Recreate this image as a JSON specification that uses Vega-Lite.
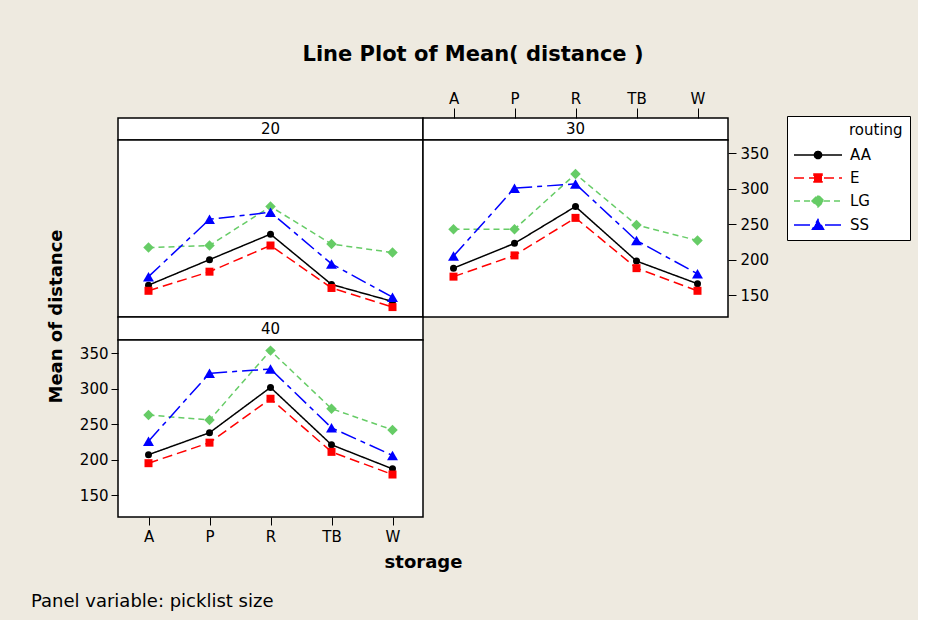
{
  "$schema": "https://vega.github.io/schema/vega-lite/v6.json",
  "background": "#EEEAE0",
  "padding": {"left": 30, "top": 44, "right": 7, "bottom": 8},
  "title": {"text": "Line Plot of Mean( distance )", "anchor": "start", "frame": "group", "align": "center", "dx": 355, "baseline": "alphabetic", "offset": 8, "fontSize": 21, "fontWeight": "bold", "font": "DejaVu Sans", "color": "black"},
  "datasets": {
    "means": [
      {"panel": "20", "routing": "AA", "storage": "A", "mean": 164},
      {"panel": "20", "routing": "AA", "storage": "P", "mean": 200},
      {"panel": "20", "routing": "AA", "storage": "R", "mean": 236},
      {"panel": "20", "routing": "AA", "storage": "TB", "mean": 165},
      {"panel": "20", "routing": "AA", "storage": "W", "mean": 141},
      {"panel": "20", "routing": "E", "storage": "A", "mean": 156},
      {"panel": "20", "routing": "E", "storage": "P", "mean": 183},
      {"panel": "20", "routing": "E", "storage": "R", "mean": 220},
      {"panel": "20", "routing": "E", "storage": "TB", "mean": 160},
      {"panel": "20", "routing": "E", "storage": "W", "mean": 133},
      {"panel": "20", "routing": "LG", "storage": "A", "mean": 217},
      {"panel": "20", "routing": "LG", "storage": "P", "mean": 220},
      {"panel": "20", "routing": "LG", "storage": "R", "mean": 275},
      {"panel": "20", "routing": "LG", "storage": "TB", "mean": 222},
      {"panel": "20", "routing": "LG", "storage": "W", "mean": 210},
      {"panel": "20", "routing": "SS", "storage": "A", "mean": 176},
      {"panel": "20", "routing": "SS", "storage": "P", "mean": 257},
      {"panel": "20", "routing": "SS", "storage": "R", "mean": 267},
      {"panel": "20", "routing": "SS", "storage": "TB", "mean": 194},
      {"panel": "20", "routing": "SS", "storage": "W", "mean": 147},
      {"panel": "30", "routing": "AA", "storage": "A", "mean": 188},
      {"panel": "30", "routing": "AA", "storage": "P", "mean": 223},
      {"panel": "30", "routing": "AA", "storage": "R", "mean": 275},
      {"panel": "30", "routing": "AA", "storage": "TB", "mean": 198},
      {"panel": "30", "routing": "AA", "storage": "W", "mean": 166},
      {"panel": "30", "routing": "E", "storage": "A", "mean": 176},
      {"panel": "30", "routing": "E", "storage": "P", "mean": 206},
      {"panel": "30", "routing": "E", "storage": "R", "mean": 259},
      {"panel": "30", "routing": "E", "storage": "TB", "mean": 188},
      {"panel": "30", "routing": "E", "storage": "W", "mean": 156},
      {"panel": "30", "routing": "LG", "storage": "A", "mean": 243},
      {"panel": "30", "routing": "LG", "storage": "P", "mean": 243},
      {"panel": "30", "routing": "LG", "storage": "R", "mean": 321},
      {"panel": "30", "routing": "LG", "storage": "TB", "mean": 249},
      {"panel": "30", "routing": "LG", "storage": "W", "mean": 227},
      {"panel": "30", "routing": "SS", "storage": "A", "mean": 205},
      {"panel": "30", "routing": "SS", "storage": "P", "mean": 301},
      {"panel": "30", "routing": "SS", "storage": "R", "mean": 307},
      {"panel": "30", "routing": "SS", "storage": "TB", "mean": 227},
      {"panel": "30", "routing": "SS", "storage": "W", "mean": 180},
      {"panel": "40", "routing": "AA", "storage": "A", "mean": 207},
      {"panel": "40", "routing": "AA", "storage": "P", "mean": 238},
      {"panel": "40", "routing": "AA", "storage": "R", "mean": 302},
      {"panel": "40", "routing": "AA", "storage": "TB", "mean": 221},
      {"panel": "40", "routing": "AA", "storage": "W", "mean": 187},
      {"panel": "40", "routing": "E", "storage": "A", "mean": 195},
      {"panel": "40", "routing": "E", "storage": "P", "mean": 224},
      {"panel": "40", "routing": "E", "storage": "R", "mean": 286},
      {"panel": "40", "routing": "E", "storage": "TB", "mean": 211},
      {"panel": "40", "routing": "E", "storage": "W", "mean": 179},
      {"panel": "40", "routing": "LG", "storage": "A", "mean": 263},
      {"panel": "40", "routing": "LG", "storage": "P", "mean": 256},
      {"panel": "40", "routing": "LG", "storage": "R", "mean": 354},
      {"panel": "40", "routing": "LG", "storage": "TB", "mean": 272},
      {"panel": "40", "routing": "LG", "storage": "W", "mean": 242},
      {"panel": "40", "routing": "SS", "storage": "A", "mean": 226},
      {"panel": "40", "routing": "SS", "storage": "P", "mean": 322},
      {"panel": "40", "routing": "SS", "storage": "R", "mean": 328},
      {"panel": "40", "routing": "SS", "storage": "TB", "mean": 245},
      {"panel": "40", "routing": "SS", "storage": "W", "mean": 206}
    ]
  },
  "columns": 2,
  "spacing": 0,
  "bounds": "flush",
  "align": "each",
  "concat": [
    {"width": 305, "height": 22, "view": {"fill": "white", "stroke": "black", "strokeWidth": 1.5}, "data": {"values": [{"label": "20"}]}, "mark": {"type": "text", "fontSize": 15, "color": "black"}, "encoding": {"text": {"field": "label", "type": "nominal"}}},
    {"width": 305, "height": 22, "view": {"fill": "white", "stroke": "black", "strokeWidth": 1.5}, "data": {"values": [{"label": "30"}]}, "mark": {"type": "text", "fontSize": 15, "color": "black"}, "encoding": {"text": {"field": "label", "type": "nominal"}}},
    {
      "width": 305, "height": 177,
      "data": {"name": "means"},
      "transform": [{"filter": "datum.panel == '20'"}],
      "encoding": {
        "x": {"field": "storage", "type": "nominal", "scale": {"type": "point", "padding": 0.5, "domain": ["A", "P", "R", "TB", "W"]}, "axis": null},
        "y": {"field": "mean", "type": "quantitative", "scale": {"domain": [119, 369], "nice": false, "zero": false}, "axis": null},
        "color": {"field": "routing", "type": "nominal", "scale": {"domain": ["AA", "E", "LG", "SS"], "range": ["#000000", "#FF0000", "#66CC66", "#0000FF"]},
          "legend": {
            "orient": "none", "legendX": 669, "legendY": -2,
            "title": "routing",
            "encode": {
              "title": {"update": {"dx": {"value": 55}}},
              "symbols": {"update": {
                "shape": {"signal": "datum.value === 'AA' ? 'M-3,0L3,0M-0.45,0A0.45,0.45,0,1,1,0.45,0A0.45,0.45,0,1,1,-0.45,0Z' : datum.value === 'E' ? 'M-3,0L3,0M-0.5,-0.5L0.5,-0.5L0.5,0.5L-0.5,0.5Z' : datum.value === 'LG' ? 'M-3,0L3,0M-0.75,0L0,-0.75L0.75,0L0,0.75Z' : 'M-3,0L3,0M-0.69,0.52L0.69,0.52L0,-0.69Z'"},
                "fill": {"signal": "scale('color', datum.value)"},
                "stroke": {"signal": "scale('color', datum.value)"},
                "strokeDash": {"signal": "datum.value === 'AA' ? [1,0] : datum.value === 'E' ? [10,5] : datum.value === 'LG' ? [6,4] : [16,5,5,5]"},
                "size": {"value": 256},
                "strokeWidth": {"value": 1.5},
                "opacity": {"value": 1},
                "fillOpacity": {"value": 1}
              }}
            }
          }
        }
      },
      "layer": [
        {"mark": {"type": "line", "strokeWidth": 1.5}, "encoding": {"strokeDash": {"field": "routing", "type": "nominal", "scale": {"domain": ["AA", "E", "LG", "SS"], "range": [[1, 0], [10, 5], [6, 4], [16, 5, 5, 5]]}, "legend": null}}},
        {"transform": [{"filter": "datum.routing == 'AA'"}], "mark": {"type": "point", "filled": true, "opacity": 1, "shape": "circle", "size": 49}},
        {"transform": [{"filter": "datum.routing == 'E'"}], "mark": {"type": "point", "filled": true, "opacity": 1, "shape": "square", "size": 64}},
        {"transform": [{"filter": "datum.routing == 'LG'"}], "mark": {"type": "point", "filled": true, "opacity": 1, "shape": "diamond", "size": 110}},
        {"transform": [{"filter": "datum.routing == 'SS'"}], "mark": {"type": "point", "filled": true, "opacity": 1, "shape": "triangle-up", "size": 120}}
      ]
    },
    {
      "width": 305, "height": 177,
      "data": {"name": "means"},
      "transform": [{"filter": "datum.panel == '30'"}],
      "encoding": {
        "x": {"field": "storage", "type": "nominal", "scale": {"type": "point", "padding": 0.5, "domain": ["A", "P", "R", "TB", "W"]}, "axis": {"orient": "top", "offset": 22, "tickSize": 10, "labelPadding": 2, "domain": false, "title": null, "labelAngle": 0}},
        "y": {"field": "mean", "type": "quantitative", "scale": {"domain": [119, 369], "nice": false, "zero": false}, "axis": {"orient": "right", "values": [150, 200, 250, 300, 350], "tickSize": 8, "labelPadding": 4, "domain": false, "title": null}},
        "color": {"field": "routing", "type": "nominal", "scale": {"domain": ["AA", "E", "LG", "SS"], "range": ["#000000", "#FF0000", "#66CC66", "#0000FF"]}}
      },
      "layer": [
        {"mark": {"type": "line", "strokeWidth": 1.5}, "encoding": {"strokeDash": {"field": "routing", "type": "nominal", "scale": {"domain": ["AA", "E", "LG", "SS"], "range": [[1, 0], [10, 5], [6, 4], [16, 5, 5, 5]]}, "legend": null}}},
        {"transform": [{"filter": "datum.routing == 'AA'"}], "mark": {"type": "point", "filled": true, "opacity": 1, "shape": "circle", "size": 49}},
        {"transform": [{"filter": "datum.routing == 'E'"}], "mark": {"type": "point", "filled": true, "opacity": 1, "shape": "square", "size": 64}},
        {"transform": [{"filter": "datum.routing == 'LG'"}], "mark": {"type": "point", "filled": true, "opacity": 1, "shape": "diamond", "size": 110}},
        {"transform": [{"filter": "datum.routing == 'SS'"}], "mark": {"type": "point", "filled": true, "opacity": 1, "shape": "triangle-up", "size": 120}}
      ]
    },
    {"width": 305, "height": 23, "view": {"fill": "white", "stroke": "black", "strokeWidth": 1.5}, "data": {"values": [{"label": "40"}]}, "mark": {"type": "text", "fontSize": 15, "color": "black"}, "encoding": {"text": {"field": "label", "type": "nominal"}}},
    {"width": 305, "height": 23, "data": {"values": []}, "mark": {"type": "point", "opacity": 0}, "encoding": {}, "view": {"stroke": null, "fill": null}},
    {
      "width": 305, "height": 177,
      "data": {"name": "means"},
      "transform": [{"filter": "datum.panel == '40'"}],
      "title": {"text": "Panel variable: picklist size", "orient": "bottom", "anchor": "start", "frame": "group", "align": "left", "dx": -87, "baseline": "top", "offset": 22, "fontSize": 18, "fontWeight": "normal", "font": "DejaVu Sans", "color": "black"},
      "encoding": {
        "x": {"field": "storage", "type": "nominal", "scale": {"type": "point", "padding": 0.5, "domain": ["A", "P", "R", "TB", "W"]}, "axis": {"orient": "bottom", "tickSize": 8, "labelPadding": 4, "domain": false, "title": "storage", "titleX": 305, "titleY": 45, "titleBaseline": "middle", "titleAlign": "center", "titleFontSize": 18, "titleFontWeight": "bold", "labelAngle": 0}},
        "y": {"field": "mean", "type": "quantitative", "scale": {"domain": [119, 369], "nice": false, "zero": false}, "axis": {"orient": "left", "values": [150, 200, 250, 300, 350], "tickSize": 7, "labelPadding": 3, "domain": false, "title": "Mean of distance", "titleX": -62, "titleY": -24, "titleAngle": 270, "titleBaseline": "middle", "titleAlign": "center", "titleFontSize": 18, "titleFontWeight": "bold"}},
        "color": {"field": "routing", "type": "nominal", "scale": {"domain": ["AA", "E", "LG", "SS"], "range": ["#000000", "#FF0000", "#66CC66", "#0000FF"]}}
      },
      "layer": [
        {"mark": {"type": "line", "strokeWidth": 1.5}, "encoding": {"strokeDash": {"field": "routing", "type": "nominal", "scale": {"domain": ["AA", "E", "LG", "SS"], "range": [[1, 0], [10, 5], [6, 4], [16, 5, 5, 5]]}, "legend": null}}},
        {"transform": [{"filter": "datum.routing == 'AA'"}], "mark": {"type": "point", "filled": true, "opacity": 1, "shape": "circle", "size": 49}},
        {"transform": [{"filter": "datum.routing == 'E'"}], "mark": {"type": "point", "filled": true, "opacity": 1, "shape": "square", "size": 64}},
        {"transform": [{"filter": "datum.routing == 'LG'"}], "mark": {"type": "point", "filled": true, "opacity": 1, "shape": "diamond", "size": 110}},
        {"transform": [{"filter": "datum.routing == 'SS'"}], "mark": {"type": "point", "filled": true, "opacity": 1, "shape": "triangle-up", "size": 120}}
      ]
    }
  ],
  "config": {
    "font": "DejaVu Sans",
    "view": {"fill": "white", "stroke": "black", "strokeWidth": 1.5},
    "axis": {"labelFontSize": 15, "labelColor": "black", "labelFont": "DejaVu Sans", "tickColor": "black", "titleColor": "black", "titleFont": "DejaVu Sans", "grid": false},
    "legend": {"titleFontSize": 15, "titleFontWeight": "normal", "titleColor": "black", "titleFont": "DejaVu Sans", "labelFontSize": 15, "labelColor": "black", "labelFont": "DejaVu Sans", "fillColor": "white", "strokeColor": "black", "padding": 7, "symbolSize": 256, "symbolOffset": 15, "symbolStrokeWidth": 1.5, "labelOffset": 23, "rowPadding": 6, "titlePadding": 8}
  }
}
